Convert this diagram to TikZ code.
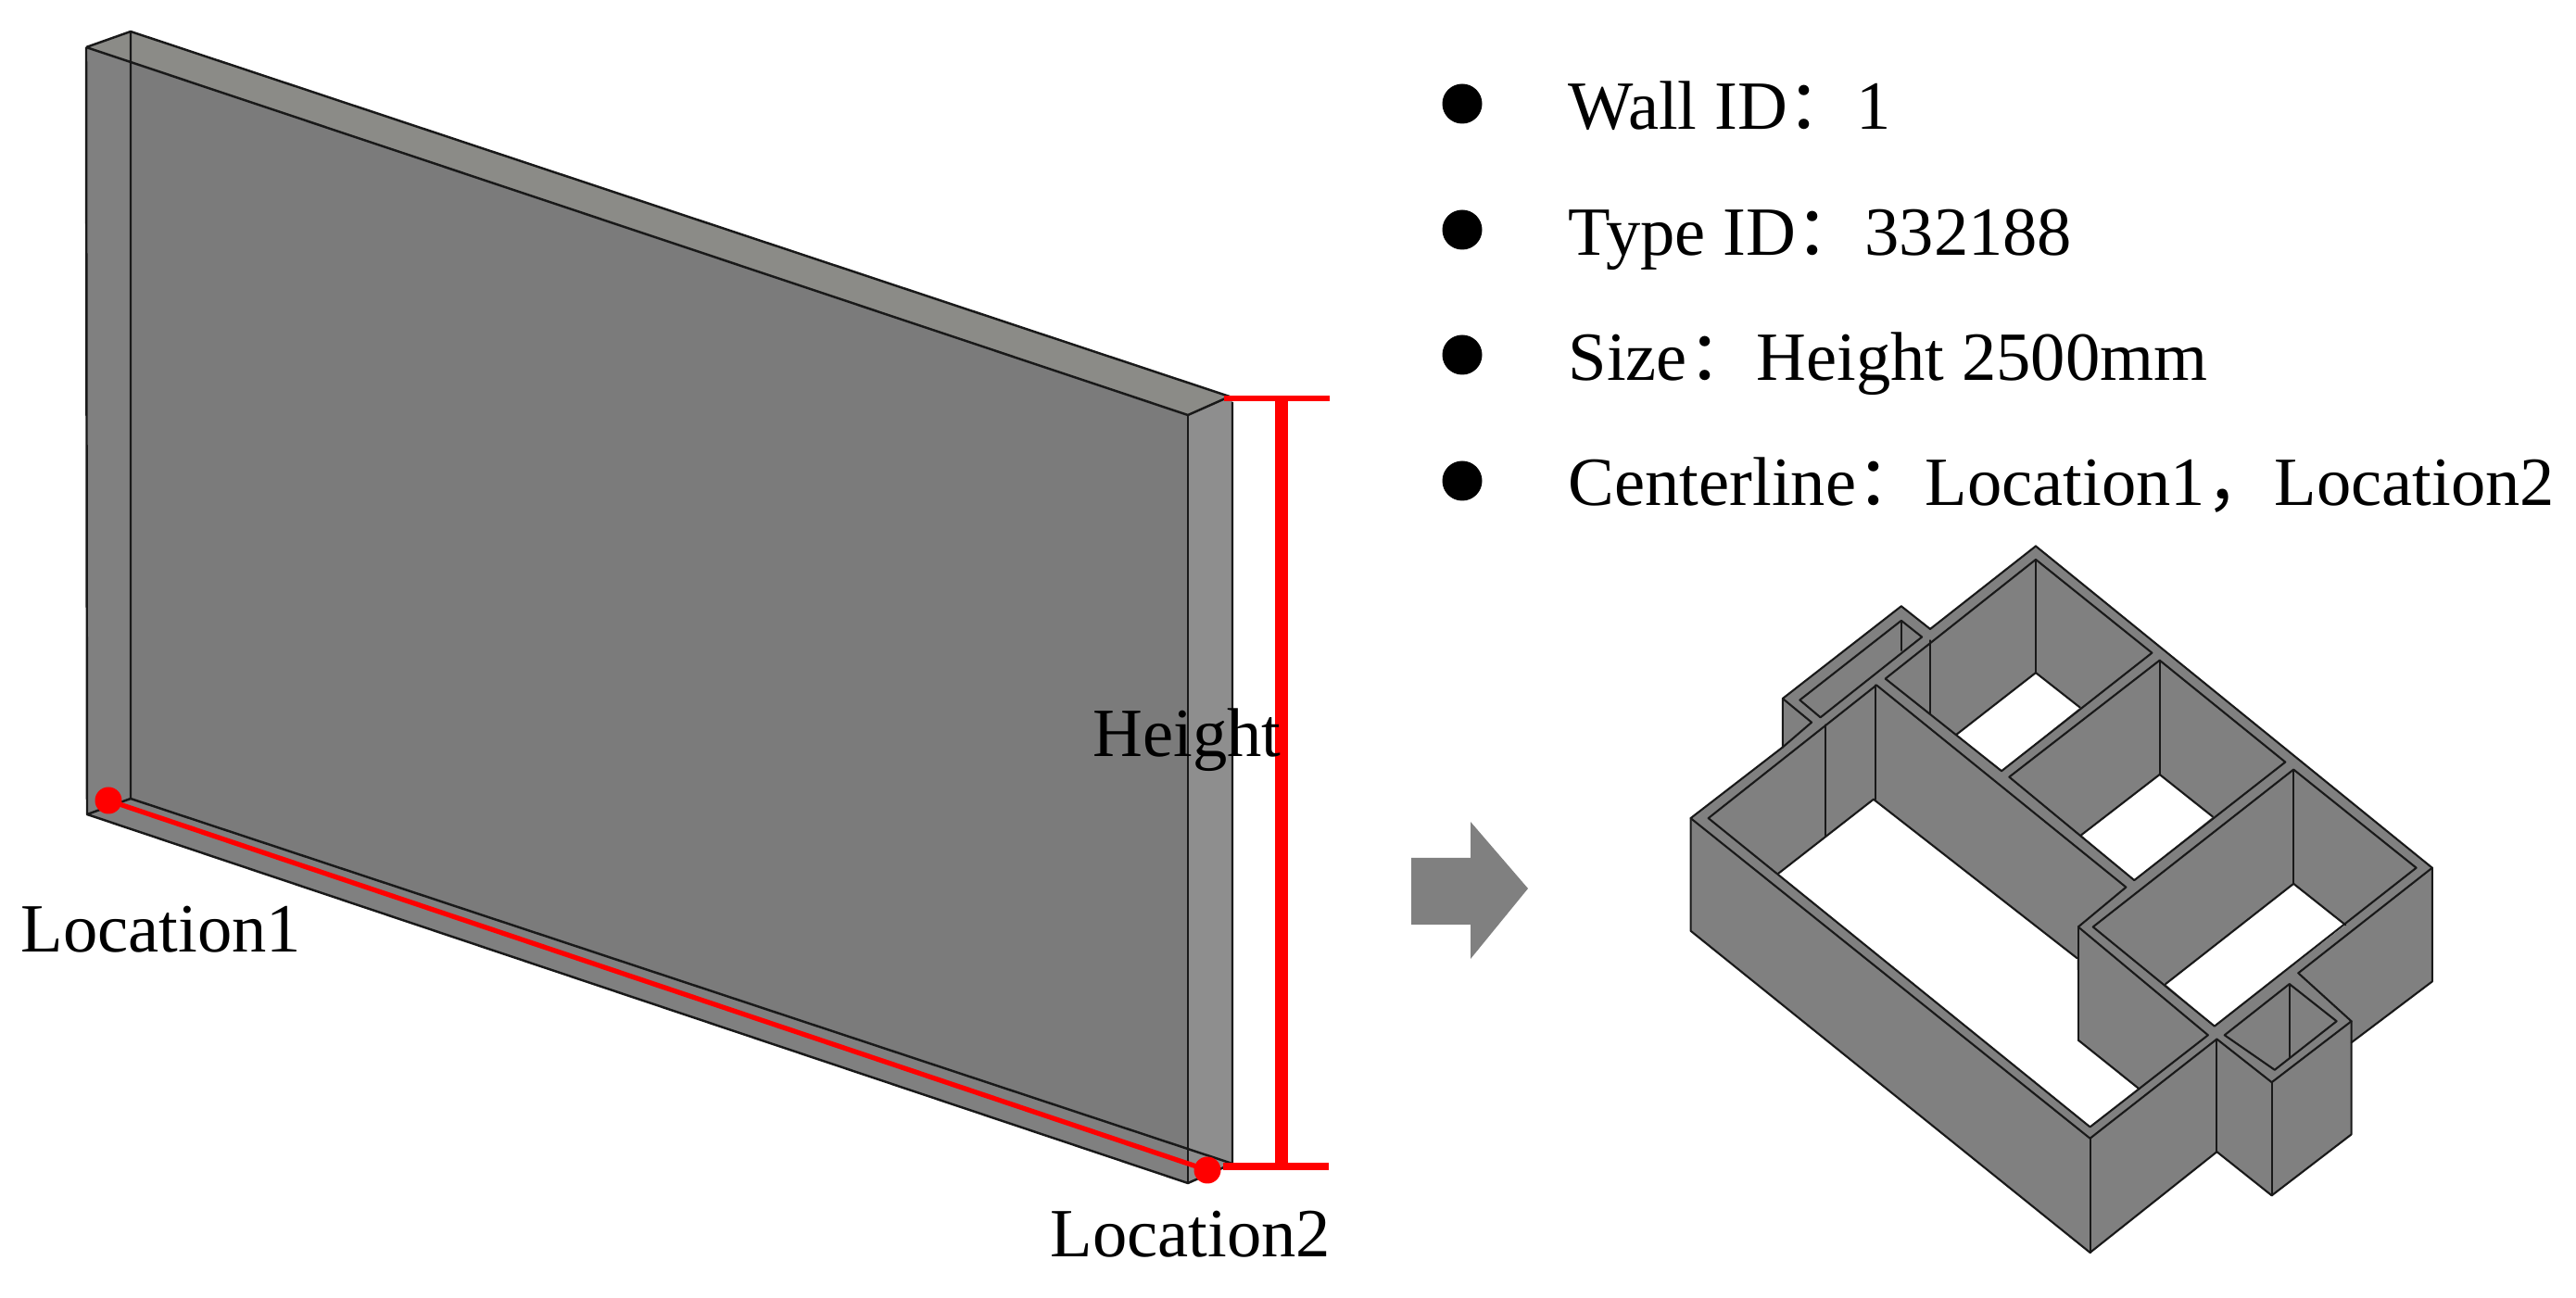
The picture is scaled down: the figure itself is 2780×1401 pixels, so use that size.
\documentclass[tikz,border=0pt]{standalone}
\usepackage{fontspec}
\setmainfont{Liberation Serif}
\newfontfamily\cjkfont{Noto Sans CJK SC}
\newcommand{\fc}{{\cjkfont ：}}
\newcommand{\fk}{{\cjkfont ，}}
\tikzset{
  lbl/.style={anchor=base west,inner sep=0pt,font=\fontsize{21.2}{25}\selectfont,text=black},
  dotbullet/.style={fill=black,draw=none,circle,minimum size=43*0.01cm,inner sep=0pt},
  edge/.style={draw=black!90,line width=0.7pt,line join=round},
  hs/.style={draw=black!90,line width=0.6pt,line join=round,line cap=round},
  redmark/.style={draw=red,line cap=butt}
}
\begin{document}
\begin{tikzpicture}[x=0.01cm,y=-0.01cm]
\useasboundingbox[fill=white] (0,0) rectangle (2780,1401);
% ---- single wall ----
\fill[fill={rgb,255:red,128;green,128;blue,128}] (93,51) -- (141,34) -- (141,862) -- (94,879) -- cycle;
\fill[fill={rgb,255:red,128;green,128;blue,128}] (94,879) -- (141,862) -- (1330,1256) -- (1282,1277) -- cycle;
\fill[fill={rgb,255:red,123;green,123;blue,123}] (141,68) -- (1282,448) -- (1282,1240) -- (141,862) -- cycle;
\fill[fill={rgb,255:red,139;green,139;blue,135}] (93,51) -- (141,34) -- (1327,428) -- (1282,448) -- cycle;
\fill[fill={rgb,255:red,142;green,142;blue,142}] (1282,448) -- (1327,428) -- (1330,434) -- (1330,1256) -- (1282,1277) -- cycle;
\draw[edge] (93,51) -- (141,34) -- (1327,428);
\draw[edge] (1330,434) -- (1330,1256) -- (1282,1277) -- (94,879) -- (93,51);
\draw[edge] (93,51) -- (1282,448) -- (1327,428);
\draw[edge] (1282,448) -- (1282,1277);
\draw[edge] (141,34) -- (141,862) -- (1330,1256);
\draw[edge] (94,879) -- (141,862);
% red marks
\coordinate (loc1) at (117,864);
\coordinate (loc2) at (1303,1263);
\coordinate (hTop) at (1383,430);
\coordinate (hBot) at (1383,1259);
\draw[redmark,line width=1.5pt] (loc1) -- (loc2);
\draw[redmark,line width=4pt] (hTop) -- (hBot);
\draw[redmark,line width=1.7pt] (1321,430) -- (1435,430);
\draw[redmark,line width=2.3pt] (1320,1259) -- (1434,1259);
\fill[red] (loc1) circle (14.5);
\fill[red] (loc2) circle (14.5);
\node[lbl] (tHeight) at (1179,817) {Height};
\node[lbl] (tLoc1) at (22,1028) {Location1};
\node[lbl] (tLoc2) at (1133,1357) {Location2};
% ---- list ----
\node[dotbullet] (b1) at (1578,112) {};
\node[dotbullet] (b2) at (1578,248) {};
\node[dotbullet] (b3) at (1578,383) {};
\node[dotbullet] (b4) at (1578,519) {};
\node[lbl] (t1) at (1692,140) {Wall ID\fc 1};
\node[lbl] (t2) at (1692,276) {Type ID\fc 332188};
\node[lbl] (t3) at (1692,411) {Size\fc Height 2500mm};
\node[lbl] (t4) at (1692,546) {Centerline\fc Location1\fk Location2};
% ---- arrow ----
\fill[fill=white!50!black] (1523,926) -- (1587,926) -- (1587,887) -- (1649,959) -- (1587,1035) -- (1587,998) -- (1523,998) -- cycle;
% ---- house ----
\begin{scope}[shift={(1780,560)},x=0.00636cm,y=-0.00535cm]
\fill[fill=white!50!black] (655,55) -- (1327,703) -- (1327,932) -- (1190,1055) -- (1190,1240) -- (1055,1363) -- (962,1275) -- (747,1478) -- (70,830) -- (70,603) -- (226,460) -- (226,362) -- (427,176) -- (476,222) -- cycle;
% floor openings
\fill[white] (655,310) -- (730,380) -- (597,508) -- (520,435) -- cycle;
\fill[white] (865,515) -- (955,600) -- (822,728) -- (732,637) -- cycle;
\fill[white] (1092,735) -- (1180,818) -- (958,1022) -- (875,937) -- cycle;
\fill[white] (380,565) -- (725,885) -- (727,1050) -- (830,1148) -- (747,1225) -- (218,715) -- cycle;
% outline
\draw[hs] (655,55) -- (1327,703) -- (1327,932) -- (1190,1055);
\draw[hs] (1190,1012) -- (1190,1240) -- (1055,1363) -- (962,1275) -- (747,1478) -- (70,830) -- (70,603) -- (226,460) -- (226,362) -- (427,176) -- (476,222) -- (655,55);
% opening edges
\draw[hs] (655,310) -- (730,380);
\draw[hs] (655,310) -- (520,435);
\draw[hs] (865,515) -- (955,600);
\draw[hs] (865,515) -- (732,637);
\draw[hs] (1092,735) -- (1180,818);
\draw[hs] (1092,735) -- (875,937);
\draw[hs] (380,565) -- (218,715);
\draw[hs] (380,565) -- (725,885);
\draw[hs] (727,1050) -- (830,1148);
% closet
\draw[hs] (255,365) -- (427,205) -- (462,238) -- (290,400) -- cycle;
\draw[hs] (427,205) -- (427,265);
\draw[hs] (226,362) -- (275,410) -- (226,460);
% wall top inner lines
\draw[hs] (100,603) -- (385,335) -- (808,742) -- (727,822);
\draw[hs] (400,322) -- (655,82) -- (852,270) -- (597,508) -- (400,322);
\draw[hs] (610,520) -- (865,285) -- (1078,490) -- (822,728) -- cycle;
\draw[hs] (1092,505) -- (752,822) -- (958,1022) -- (1300,703) -- cycle;
\draw[hs] (727,822) -- (947,1040) -- (747,1225) -- (100,603);
\draw[hs] (727,822) -- (727,1050);
\draw[hs] (70,603) -- (747,1248) -- (962,1048) -- (1055,1135) -- (1190,1012) -- (1100,915) -- (1327,703);
% verticals
\draw[hs] (298,415) -- (298,640);
\draw[hs] (383,335) -- (383,565);
\draw[hs] (476,245) -- (476,392);
\draw[hs] (655,82) -- (655,310);
\draw[hs] (865,285) -- (865,515);
\draw[hs] (1092,505) -- (1092,735);
\draw[hs] (747,1248) -- (747,1478);
\draw[hs] (962,1048) -- (962,1275);
\draw[hs] (1055,1135) -- (1055,1363);
% washroom
\draw[hs] (975,1040) -- (1085,937) -- (1165,1012) -- (1060,1110) -- cycle;
\draw[hs] (1085,937) -- (1085,1085);
\end{scope}
\end{tikzpicture}
\end{document}
